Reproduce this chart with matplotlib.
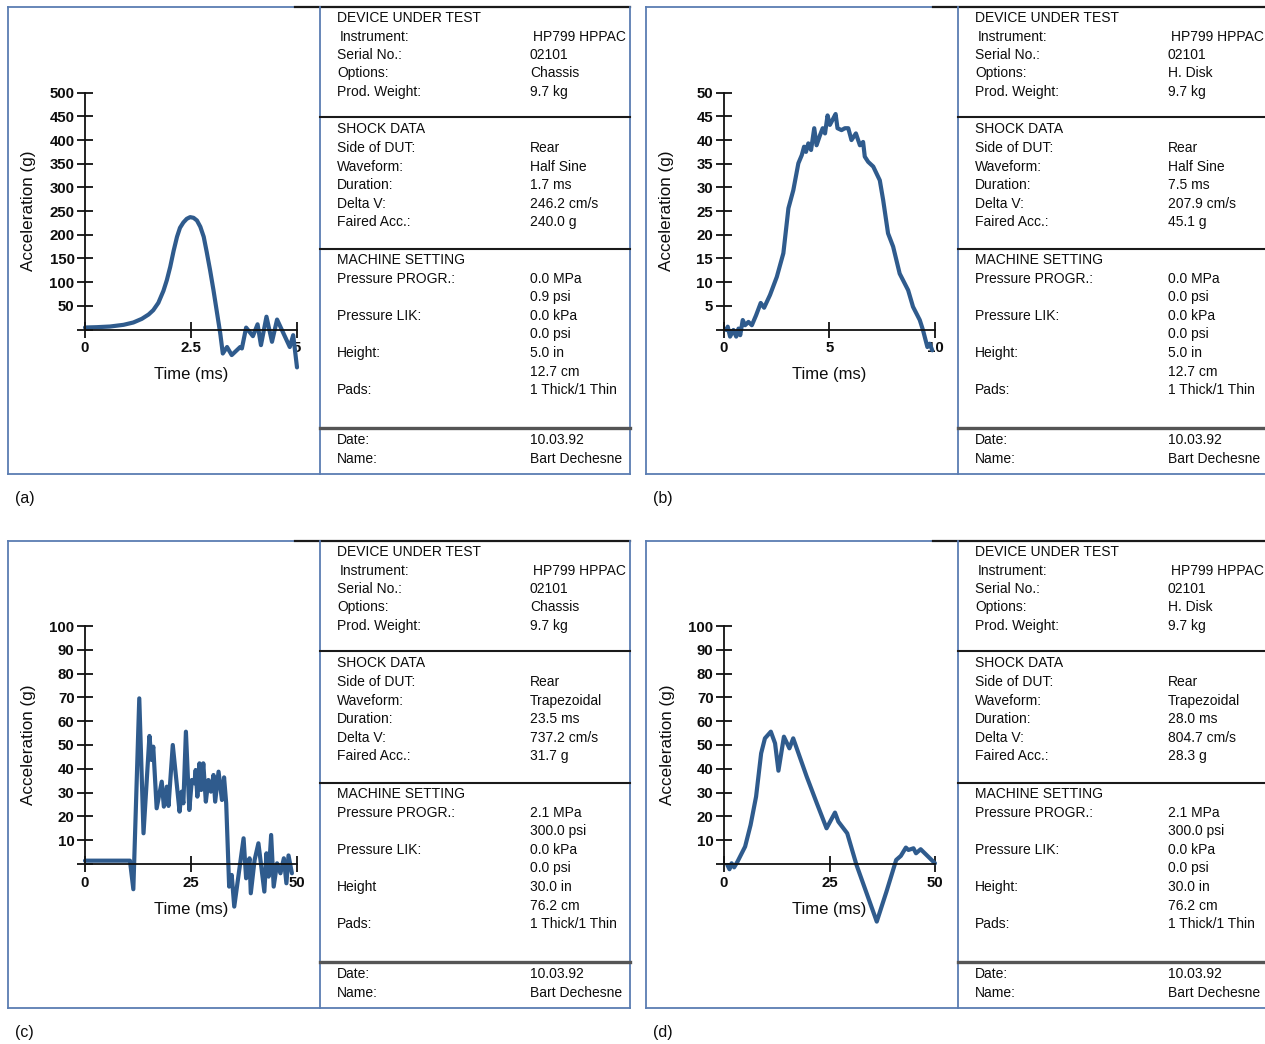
import matplotlib

matplotlib.use("Agg")

import matplotlib.pyplot as plt

W, H = 1265, 1044
FRAME_BLUE = "#5b7db2"
CURVE_BLUE = "#2f5b8d"
TEXT = "#0d0d0d"

plt.rcParams["font.family"] = ["Liberation Sans", "DejaVu Sans"]

# --- shock pulses ---
a_time = [0.0, 0.28, 0.59, 0.91, 1.14, 1.34, 1.5, 1.61, 1.73, 1.85, 1.93, 2.01, 2.09, 2.17, 2.24,
          2.32, 2.4, 2.48, 2.56, 2.64, 2.72, 2.8, 2.87, 2.95, 3.03, 3.11, 3.19, 3.25,
          3.35, 3.46, 3.66, 3.7, 3.8, 3.96, 4.07, 4.15, 4.28, 4.41, 4.53, 4.83, 4.91, 5.0]
a_accel = [4.2, 4.9, 6.3, 9.9, 14.8, 22.5, 31.7, 40.8, 56.3, 81.7, 104.2, 132.3, 166.1, 195.7, 214.7,
           226.0, 233.7, 237.3, 235.8, 230.2, 216.9, 195.7, 164.0, 125.3, 83.1, 37.3, -8.4, -50.7,
           -37, -54, -37, -40, 4, -14, 11, -33, 27, -26, 21, -37, -12, -80]

b_time = [0.13, 0.2, 0.31, 0.47, 0.6, 0.71, 0.79, 0.91, 1.02, 1.18, 1.34, 1.54, 1.76, 1.92, 2.2,
          2.52, 2.83, 3.07, 3.3, 3.54, 3.7, 3.81, 3.9, 4.01, 4.14, 4.29, 4.4, 4.56, 4.69, 4.8,
          4.92, 5.03, 5.16, 5.3, 5.39, 5.58, 5.74, 5.9, 6.05, 6.26, 6.45, 6.6, 6.68, 6.84, 7.08,
          7.39, 7.55, 7.78, 8.02, 8.33, 8.73, 8.96, 9.28, 9.43, 9.64, 9.75, 9.87]
b_accel = [-0.1, 0.6, -1.5, -0.1, -1.5, 0.2, -1.2, 2.0, 0.9, 1.6, 0.9, 3.0, 5.6, 4.6, 7.3,
           11.1, 16.1, 25.6, 29.4, 35.1, 36.8, 38.6, 37.5, 39.3, 37.9, 42.5, 38.9, 41.0, 42.5, 41.4,
           45.2, 43.2, 44.3, 45.5, 42.5, 42.1, 42.5, 42.5, 40.0, 41.4, 38.9, 39.6, 36.5, 35.4, 34.4,
           31.5, 27.3, 20.3, 17.5, 11.8, 8.3, 4.8, 2.0, -0.1, -3.7, -3.0, -4.4]

c_time = [0.0, 10.6, 11.4, 12.8, 13.8, 15.2, 15.7, 16.1, 16.9, 18.1, 18.6, 19.3, 19.7, 20.7, 22.3,
          22.8, 23.2, 23.8, 24.6, 25.2, 25.8, 26.1, 26.5, 27.0, 27.4, 27.9, 28.5, 29.1, 29.7, 30.3,
          30.7, 31.5, 32.3, 32.8, 33.3, 34.0, 34.6, 35.2, 37.4, 38.0, 38.8, 39.1, 40.0, 40.9, 42.3,
          42.8, 43.3, 43.9, 44.5, 45.3, 46.1, 46.9, 47.5, 48.0, 48.8]
c_accel = [1.4, 1.4, -10.6, 69.6, 12.9, 53.8, 43.7, 49.3, 23.4, 34.6, 24.1, 32.5, 24.4, 50.0, 22.0,
           30.4, 25.5, 55.6, 22.7, 35.3, 33.9, 39.5, 28.3, 42.3, 31.1, 42.3, 26.2, 35.3, 30.4, 37.4,
           26.2, 38.8, 26.9, 36.4, 25.5, -9.5, -4.6, -17.9, 10.8, -6.0, 2.4, -12.3, 1.7, 8.7, -11.6,
           4.5, -5.3, 12.2, -9.5, 0.3, -3.9, 2.4, -8.1, 3.6, -3.9]

d_time = [0.8, 1.3, 1.8, 2.4, 3.2, 5.0, 6.3, 7.6, 8.8, 9.7, 11.1, 12.1, 12.9, 14.2, 15.5,
          16.4, 19.6, 22.0, 24.3, 26.3, 27.1, 29.2, 31.4, 33.8, 36.2, 38.5, 40.8, 41.9, 43.1, 43.7,
          44.9, 45.5, 46.6, 50.0]
d_accel = [-0.4, -2.2, 0.3, -1.4, 1.0, 7.3, 16.4, 28.3, 46.5, 52.8, 55.6, 50.7, 39.2, 53.5, 48.6,
           52.8, 36.7, 25.5, 15.0, 21.6, 17.8, 12.9, -0.4, -12.3, -24.2, -11.6, 1.7, 3.4, 6.9, 5.9,
           6.6, 4.5, 6.2, 0.3]

# --- test sheet text ---
sheet_labels = ["Instrument:", "Serial No.:", "Options:", "Prod. Weight:",
                "Side of DUT:", "Waveform:", "Duration:", "Delta V:", "Faired Acc.:",
                "Pressure PROGR.:", "", "Pressure LIK:", "", "Height:", "", "Pads:",
                "Date:", "Name:"]
sheet_headers = ["DEVICE UNDER TEST", "SHOCK DATA", "MACHINE SETTING"]

a_values = ["HP799 HPPAC", "02101", "Chassis", "9.7 kg",
            "Rear", "Half Sine", "1.7 ms", "246.2 cm/s", "240.0 g",
            "0.0 MPa", "0.9 psi", "0.0 kPa", "0.0 psi", "5.0 in", "12.7 cm", "1 Thick/1 Thin",
            "10.03.92", "Bart Dechesne"]
b_values = ["HP799 HPPAC", "02101", "H. Disk", "9.7 kg",
            "Rear", "Half Sine", "7.5 ms", "207.9 cm/s", "45.1 g",
            "0.0 MPa", "0.0 psi", "0.0 kPa", "0.0 psi", "5.0 in", "12.7 cm", "1 Thick/1 Thin",
            "10.03.92", "Bart Dechesne"]
c_values = ["HP799 HPPAC", "02101", "Chassis", "9.7 kg",
            "Rear", "Trapezoidal", "23.5 ms", "737.2 cm/s", "31.7 g",
            "2.1 MPa", "300.0 psi", "0.0 kPa", "0.0 psi", "30.0 in", "76.2 cm", "1 Thick/1 Thin",
            "10.03.92", "Bart Dechesne"]
d_values = ["HP799 HPPAC", "02101", "H. Disk", "9.7 kg",
            "Rear", "Trapezoidal", "28.0 ms", "804.7 cm/s", "28.3 g",
            "2.1 MPa", "300.0 psi", "0.0 kPa", "0.0 psi", "30.0 in", "76.2 cm", "1 Thick/1 Thin",
            "10.03.92", "Bart Dechesne"]

a_yticks = [0, 50, 100, 150, 200, 250, 300, 350, 400, 450, 500]
b_yticks = [0, 5, 10, 15, 20, 25, 30, 35, 40, 45, 50]
cd_yticks = [0, 10, 20, 30, 40, 50, 60, 70, 80, 90, 100]
a_xticks, a_xlabels = [0, 2.5, 5], ["0", "2.5", "5"]
b_xticks, b_xlabels = [0, 5, 10], ["0", "5", "10"]
cd_xticks, cd_xlabels = [0, 25, 50], ["0", "25", "50"]

ROW_Y = [37, 55, 73, 92, 148, 167, 185, 204, 222, 279, 297, 316, 334, 353, 372, 390, 440, 459]
HEAD_Y = [18, 129, 260]
SHEET_FS = 10.0

fig = plt.figure(figsize=(W / 100, H / 100), dpi=100)
ov = fig.add_axes([0, 0, 1, 1])
ov.set_xlim(0, W)
ov.set_ylim(H, 0)
ov.axis("off")


def draw_sheet(dx, dy, values, right_edge, labels=sheet_labels):
    left, split, right = 8 + dx, 320 + dx, right_edge
    top, bottom = 7 + dy, 474 + dy
    # outer frame
    ov.plot([left, 295 + dx], [top, top], color=FRAME_BLUE, lw=1.3)
    ov.plot([295 + dx, right], [top, top], color="#1a1a1a", lw=1.6)
    ov.plot([left, left], [top, bottom], color=FRAME_BLUE, lw=1.3)
    ov.plot([left, right], [bottom, bottom], color=FRAME_BLUE, lw=1.3)
    if right < W - 1:
        ov.plot([right, right], [top, bottom], color=FRAME_BLUE, lw=1.3)
    ov.plot([split, split], [top, bottom], color=FRAME_BLUE, lw=1.3)
    for y in (117, 249):
        ov.plot([split, right], [y + dy, y + dy], color="#1a1a1a", lw=1.5)
    ov.plot([split, right], [428 + dy, 428 + dy], color="#555555", lw=2.4)

    for head, y in zip(sheet_headers, HEAD_Y):
        ov.text(337 + dx, y + dy, head, fontsize=SHEET_FS, color=TEXT, va="center")
    for i, (lab, val, y) in enumerate(zip(labels, values, ROW_Y)):
        shift = 3 if i == 0 else 0
        if lab:
            ov.text(337 + dx + shift, y + dy, lab, fontsize=SHEET_FS, color=TEXT, va="center")
        ov.text(530 + dx + shift, y + dy, val, fontsize=SHEET_FS, color=TEXT, va="center")


def draw_pulse(x_px, zero_py, top_py, xmax, ytop, ybot, time, accel,
               yticks, xticks, xlabels, tag_xy, tag):
    left, right = x_px
    per_unit = (zero_py - top_py) / ytop
    bottom_py = zero_py - ybot * per_unit
    ax = fig.add_axes([left / W, 1 - bottom_py / H, (right - left) / W, (bottom_py - top_py) / H])
    ax.patch.set_visible(False)
    ax.plot(time, accel, color=CURVE_BLUE, lw=3.0, solid_joinstyle="round",
            solid_capstyle="round", clip_on=False)
    ax.set_xlim(0, xmax)
    ax.set_ylim(ybot, ytop)
    for side in ("top", "right"):
        ax.spines[side].set_visible(False)
    ax.spines["bottom"].set_position(("data", 0))
    ax.spines["left"].set_bounds(0, ytop)
    for side in ("left", "bottom"):
        ax.spines[side].set_linewidth(1.3)
        ax.spines[side].set_color("#111111")
    ax.set_yticks(yticks)
    ax.set_yticklabels([""] + [str(t) for t in yticks[1:]])
    ax.set_xticks(xticks)
    ax.set_xticklabels(xlabels)
    ax.tick_params(direction="inout", length=11, width=1.3, colors="#111111",
                   labelsize=10.8, labelcolor=TEXT)
    for lab in ax.get_xticklabels() + ax.get_yticklabels():
        lab.set_fontweight("bold")
    ax.tick_params(axis="x", pad=3)
    ax.tick_params(axis="y", pad=2)
    ax.set_xlabel("Time (ms)", fontsize=12, color=TEXT)
    ax.set_ylabel("Acceleration (g)", fontsize=12.3, color=TEXT)
    ax.xaxis.set_label_coords((left + right) / 2, zero_py + 38, transform=ov.transData)
    ax.yaxis.set_label_coords(left - 49, (zero_py + top_py) / 2, transform=ov.transData)
    ov.text(tag_xy[0], tag_xy[1], tag, fontsize=11.5, color=TEXT, va="center")
    return ax


draw_sheet(0, 0, a_values, 630)
draw_sheet(638, 0, b_values, W)
c_labels = list(sheet_labels)
c_labels[13] = "Height"
draw_sheet(0, 534, c_values, 630, labels=c_labels)
draw_sheet(638, 534, d_values, W)

draw_pulse((85, 297), 329.5, 92.7, 5, 500, -90, a_time, a_accel,
           a_yticks, a_xticks, a_xlabels, (15, 498), "(a)")
draw_pulse((723.5, 935), 329.5, 92.7, 10, 50, -5.5, b_time, b_accel,
           b_yticks, b_xticks, b_xlabels, (653, 498), "(b)")
draw_pulse((85, 297), 864, 626, 50, 100, -20, c_time, c_accel,
           cd_yticks, cd_xticks, cd_xlabels, (15, 1032), "(c)")
draw_pulse((724, 935), 864, 626, 50, 100, -27, d_time, d_accel,
           cd_yticks, cd_xticks, cd_xlabels, (653, 1032), "(d)")

fig.savefig("out.png", dpi=100)
